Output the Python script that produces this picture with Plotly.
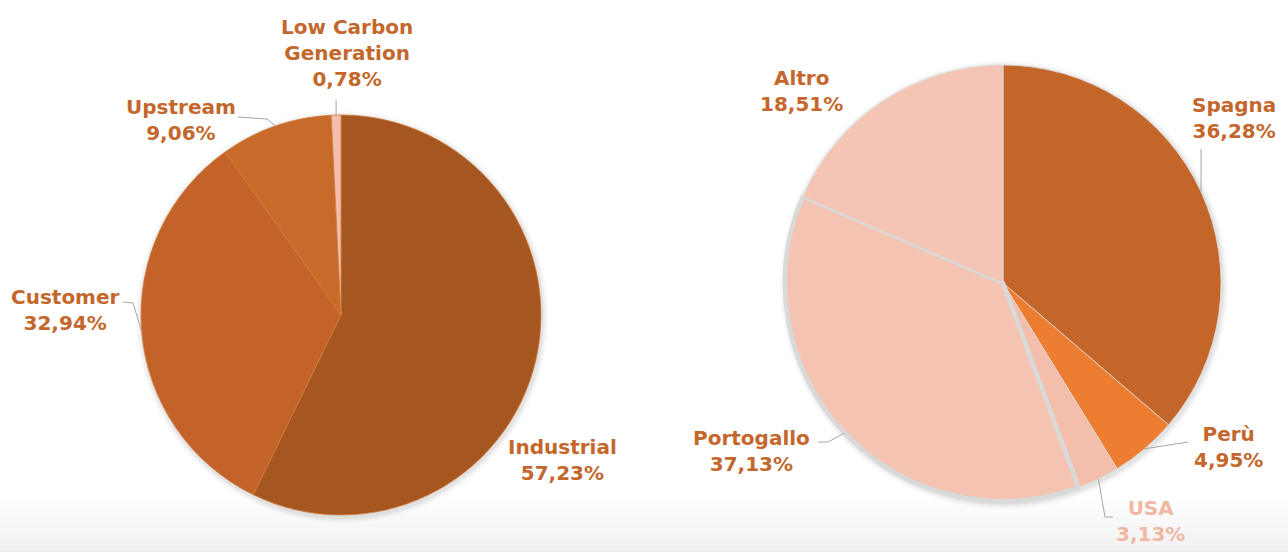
import math
import plotly.graph_objects as go

W, H = 1288, 552

# ---- data ----
seg_labels = ["Industrial", "Customer", "Upstream", "Low Carbon<br>Generation"]
seg_values = [57.23, 32.94, 9.06, 0.78]
seg_colors = ["#A6561F", "#C3632A", "#C76A2A", "#F3BFAC"]

geo_labels = ["Spagna", "Perù", "USA", "Portogallo", "Altro"]
geo_values = [36.28, 4.95, 3.13, 37.13, 18.51]
geo_colors = ["#C4662A", "#ED7D31", "#F3BEAB", "#F4C3B1", "#F4C5B4"]

TXT = "#C4672C"
FONT = "DejaVu Sans"

# ---- layout geometry (pixels) ----
L_C, L_R = (341, 315), 200
R_C, R_R = (1003, 283), 218


def dom(c, r, dx=0, dy=0):
    return dict(x=[(c[0] + dx - r) / W, (c[0] + dx + r) / W],
                y=[1 - (c[1] + dy + r) / H, 1 - (c[1] + dy - r) / H])


def fmt(v):
    return f"{v:.2f}".replace(".", ",") + "%"


def edge_point(values, i, c, r):
    tot = sum(values)
    cum = sum(values[:i]) + values[i] / 2
    a = 2 * math.pi * cum / tot
    return (c[0] + r * math.sin(a), c[1] - r * math.cos(a))


fig = go.Figure()

# bottom soft gray band
n = 14
for k in range(n):
    y0 = 500 + k * (H - 500) / n
    y1 = 500 + (k + 1) * (H - 500) / n
    g = int(255 - 15 * (k + 1) / n)
    fig.add_shape(type="rect", xref="paper", yref="paper", x0=0, x1=1,
                  y0=1 - y1 / H, y1=1 - y0 / H, line_width=0,
                  fillcolor=f"rgb({g},{g},{g})", layer="below")

# soft shadows behind the pies
for c, r in [(L_C, L_R), (R_C, R_R)]:
    for extra, alpha in [(6, 0.025), (4, 0.035), (2, 0.05)]:
        fig.add_trace(go.Pie(values=[1], labels=[""], textinfo="none", hoverinfo="skip",
                             marker=dict(colors=[f"rgba(0,0,0,{alpha})"], line=dict(width=0)),
                             domain=dom(c, r + extra, 1, 2), showlegend=False, sort=False))

fig.add_trace(go.Pie(labels=seg_labels, values=seg_values, sort=False,
                     direction="clockwise", rotation=0, textinfo="none",
                     hoverinfo="label+percent",
                     marker=dict(colors=seg_colors, line=dict(color="#D27A3C", width=0.8)),
                     domain=dom(L_C, L_R), showlegend=False))
fig.add_trace(go.Pie(labels=geo_labels, values=geo_values, sort=False,
                     direction="clockwise", rotation=0, textinfo="none",
                     hoverinfo="label+percent",
                     marker=dict(colors=geo_colors,
                                 line=dict(color="#D9D9D9", width=[0.8, 0.8, 0.8, 4.5, 0.8])),
                     domain=dom(R_C, R_R), showlegend=False))

# label positions (pixels: x center, y center)
seg_pos = [(562, 460), (65, 310), (181, 120), (347, 53)]
geo_pos = [(1234, 118), (1228, 447), (1150, 521), (751, 451), (801, 91)]
geo_txt_colors = [TXT, TXT, "#F0B8A3", TXT, TXT]

for lab, v, (px, py) in zip(seg_labels, seg_values, seg_pos):
    fig.add_annotation(text=f"<b>{lab}<br>{fmt(v)}</b>", xref="paper", yref="paper",
                       x=px / W, y=1 - py / H, xanchor="center", yanchor="middle",
                       showarrow=False, font=dict(family=FONT, size=20, color=TXT))
for lab, v, (px, py), col in zip(geo_labels, geo_values, geo_pos, geo_txt_colors):
    fig.add_annotation(text=f"<b>{lab}<br>{fmt(v)}</b>", xref="paper", yref="paper",
                       x=px / W, y=1 - py / H, xanchor="center", yanchor="middle",
                       showarrow=False, font=dict(family=FONT, size=20, color=col))

# leader lines: slice side from data, label side from layout
leaders = [
    (seg_values, 1, L_C, L_R, [(133, 303), (123, 302)]),
    (seg_values, 2, L_C, L_R, [(267, 119), (238, 117)]),
    (seg_values, 3, L_C, L_R, [None]),
    (geo_values, 0, R_C, R_R, [None]),
    (geo_values, 1, R_C, R_R, [(1188, 442)]),
    (geo_values, 2, R_C, R_R, [(1105, 517), (1113, 517)]),
    (geo_values, 3, R_C, R_R, [(828, 442), (818, 442)]),
]
for vals, i, c, r, pts in leaders:
    ex, ey = edge_point(vals, i, c, r)
    if pts[0] is None:
        top = 100 if c == L_C else 149
        pts = [(ex, top)]
    path = f"M {ex / W},{1 - ey / H}"
    for (qx, qy) in pts:
        path += f" L {qx / W},{1 - qy / H}"
    fig.add_shape(type="path", xref="paper", yref="paper", path=path,
                  line=dict(color="#A6A6A6", width=1))

fig.update_layout(width=W, height=H, margin=dict(l=0, r=0, t=0, b=0),
                  paper_bgcolor="white", plot_bgcolor="white")
fig.write_html("out.html")
